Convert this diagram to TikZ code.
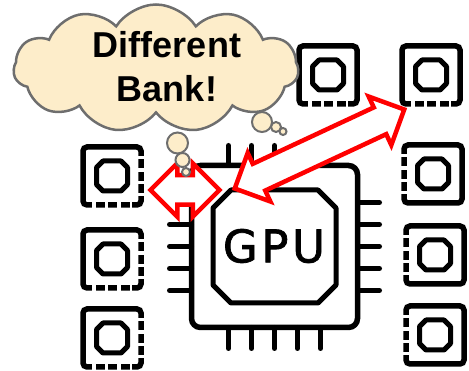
\documentclass[tikz,border=0pt]{standalone}
\usepackage{fontspec}
\setmainfont{Liberation Sans}
\newfontfamily\chipfont[LetterSpace=8,FakeBold=1.6]{DejaVu Sans}
\usetikzlibrary{shapes.symbols,shapes.arrows}

\definecolor{puff}{RGB}{253,237,202}
\definecolor{puffline}{RGB}{110,110,110}

\tikzset{
  membox/.style={draw, line width=5.5pt, rounded corners=4pt, minimum size=58pt, inner sep=0pt, outer sep=0pt},
  notch/.style={white, line width=7pt, dash pattern=on 3.5pt off 9pt},
  core/.style={line width=5pt, line join=round},
  pin/.style={line width=5pt, line cap=round},
  wide arrow/.style={double arrow, draw=red, fill=white, line width=4.5pt, inner sep=0pt,
    text height=25pt, text depth=0pt, double arrow head extend=12pt},
  bubble/.style={fill=puff, draw=puffline, line width=2pt},
}

\begin{document}
\begin{tikzpicture}[x=1pt,y=-1pt]

  \useasboundingbox (0,0) rectangle (469,371);

  % Memory chips
  \node[membox] (L1) at (112,176) {};
  \node[membox] (L2) at (112,259) {};
  \node[membox] (L3) at (112,338) {};
  \node[membox] (T)  at (328,75) {};
  \node[membox] (R1) at (431,75) {};
  \node[membox] (R2) at (433,174) {};
  \node[membox] (R3) at (435,255) {};
  \node[membox] (R4) at (435,335) {};

  % pins: cut gaps into the border
  \foreach \c in {L1,L2,L3} {
    \draw[notch] ([yshift=-9pt]\c.north east) -- ([yshift=9pt]\c.south east);
    \draw[notch] ([xshift=9pt]\c.south west) -- ([xshift=-9pt]\c.south east);
  }
  \foreach \c in {T,R1}
    \draw[notch] ([xshift=9pt]\c.south west) -- ([xshift=-9pt]\c.south east);
  \foreach \c in {R2,R3,R4}
    \draw[notch] ([yshift=-9pt]\c.north west) -- ([yshift=9pt]\c.south west);

  % die inside each chip
  \foreach \c in {L1,L2,L3,T,R1,R2,R3,R4}
    \draw[core, shift={(\c)}] (-9,-15) -- (9,-15) -- (15.5,-8.5) -- (15.5,8.5)
      -- (9,15) -- (-9,15) -- (-15.5,8.5) -- (-15.5,-8.5) -- cycle;

  % GPU package
  \node[draw, line width=5.5pt, rounded corners=9pt, minimum width=166pt,
    minimum height=162pt, outer sep=0pt] (gpu) at (274.5,246.5) {};

  \foreach \d in {-46,-23,0,23,46} {
    \draw[pin] ([xshift=\d pt]gpu.north) -- ++(0,-20);
    \draw[pin] ([xshift=\d pt]gpu.south) -- ++(0,21);
  }
  \foreach \d in {-44,-22,0,22,44} {
    \draw[pin] ([yshift=\d pt]gpu.west) -- ++(-22,0);
    \draw[pin] ([yshift=\d pt]gpu.east) -- ++(22,0);
  }

  \draw[core, shift={(gpu)}] (-43.5,-56.5) -- (43.5,-56.5) -- (61.5,-38.5) -- (61.5,38.5)
    -- (43.5,56.5) -- (-43.5,56.5) -- (-61.5,38.5) -- (-61.5,-38.5) -- cycle;

  \node[font=\chipfont\fontsize{45}{45}\selectfont] (label) at (274,246) {GPU};

  % Accesses
  \node[wide arrow, minimum height=69pt] (near) at (185,190) {};
  \node[wide arrow, minimum height=187pt, rotate=25] (far) at (319.5,149) {};

  % Thought cloud
  \node[cloud, cloud puffs=11, cloud puff arc=115, cloud ignores aspect,
    minimum width=285pt, minimum height=128pt, fill=puff, draw=puffline,
    line width=2.5pt] (thought) at (156,68.5) {};

  \draw[bubble] (262,122) circle (10pt);
  \draw[bubble] (276,127) circle (5pt);
  \draw[bubble] (283,131.5) circle (3.5pt);
  \draw[bubble] (177.5,143) circle (10.5pt);
  \draw[bubble] (182.5,160) circle (7pt);
  \draw[bubble] (186,172) circle (4pt);

  \node[font=\bfseries\fontsize{36}{44}\selectfont, align=center] (msg) at (167,67)
    {Different\\Bank!};

\end{tikzpicture}
\end{document}
